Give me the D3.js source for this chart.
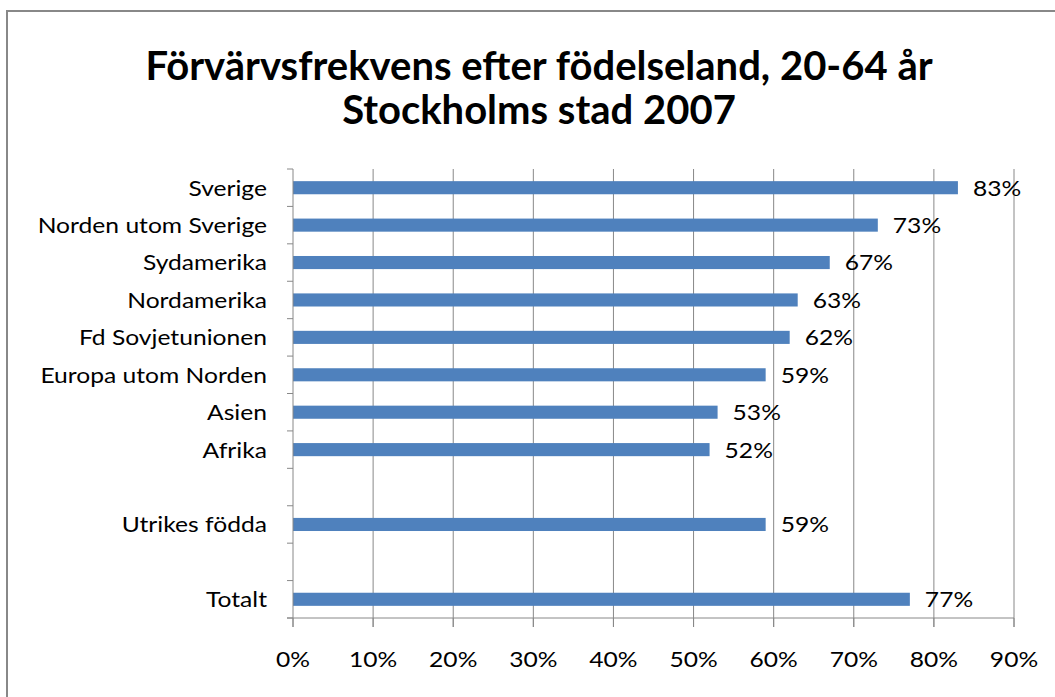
<!DOCTYPE html>
<html><head><meta charset="utf-8">
<script src="https://d3js.org/d3.v7.min.js"></script>
<style>body{margin:0;background:#fff}svg{display:block}text{font-family:Lato,"Open Sans",sans-serif}</style>
</head><body><div id="c"></div>
<script>
const categories = ["Sverige","Norden utom Sverige","Sydamerika","Nordamerika","Fd Sovjetunionen","Europa utom Norden","Asien","Afrika","","Utrikes födda"," ","Totalt"];
const values = [83,73,67,63,62,59,53,52,null,59,null,77];
const xTicks = [0,10,20,30,40,50,60,70,80,90];
const titleLines = ["Förvärvsfrekvens efter födelseland, 20-64 år","Stockholms stad 2007"];

const W=1055,H=697;
const FS=22, SX=1.12;
const svg=d3.select("#c").append("svg").attr("width",W).attr("height",H);
svg.append("rect").attr("x",7).attr("y",11).attr("width",W).attr("height",H).attr("fill","#fff").attr("stroke","#888").attr("stroke-width",2);

const m={l:293,r:1014,t:169,b:618};
const x=d3.scaleLinear().domain([0,90]).range([m.l,m.r]);
const y=d3.scaleBand().domain(categories).range([m.t,m.b]).paddingInner(0.65).paddingOuter(0.325);

// gridlines
svg.append("g").selectAll("line").data(xTicks.slice(1)).join("line")
  .attr("x1",d=>x(d)).attr("x2",d=>x(d)).attr("y1",m.t).attr("y2",m.b+9)
  .attr("stroke","#888").attr("stroke-width",1);

// bars
const data=categories.map((c,i)=>({c,v:values[i]})).filter(d=>d.v!=null);
svg.append("g").selectAll("rect").data(data).join("rect")
  .attr("x",x(0)).attr("y",d=>y(d.c)).attr("width",d=>x(d.v)-x(0)).attr("height",y.bandwidth())
  .attr("fill","#4F81BD");

// value labels
svg.append("g").selectAll("text").data(data).join("text")
  .attr("transform",d=>`translate(${x(d.v)+15},${y(d.c)+y.bandwidth()/2}) scale(${SX},1)`).attr("dy","0.36em")
  .attr("font-size",FS).attr("fill","#000").text(d=>d.v+"%");

// y axis
const step=y.step();
const ya=svg.append("g");
ya.append("line").attr("x1",m.l).attr("x2",m.l).attr("y1",m.t).attr("y2",m.b+9).attr("stroke","#888");
ya.selectAll("line.t").data(d3.range(categories.length+1)).join("line").attr("class","t")
  .attr("x1",m.l-6).attr("x2",m.l).attr("y1",i=>m.t+i*step).attr("y2",i=>m.t+i*step).attr("stroke","#888");
ya.selectAll("text").data(categories).join("text")
  .attr("transform",d=>`translate(${m.l-26},${y(d)+y.bandwidth()/2}) scale(${SX},1)`).attr("dy","0.36em").attr("text-anchor","end")
  .attr("font-size",FS).attr("fill","#000").text(d=>d.trim());

// x axis
const xa=svg.append("g");
xa.append("line").attr("x1",m.l-6).attr("x2",m.r).attr("y1",m.b).attr("y2",m.b).attr("stroke","#888");
xa.selectAll("line.t").data(xTicks).join("line").attr("class","t")
  .attr("x1",d=>x(d)).attr("x2",d=>x(d)).attr("y1",m.b).attr("y2",m.b+9).attr("stroke","#888");
xa.selectAll("text").data(xTicks).join("text")
  .attr("transform",d=>`translate(${x(d)},667) scale(${SX},1)`).attr("text-anchor","middle")
  .attr("font-size",FS).attr("fill","#000").text(d=>d+"%");

// title
svg.append("g").selectAll("text").data(titleLines).join("text")
  .attr("x",539).attr("y",(d,i)=>80+i*44).attr("text-anchor","middle")
  .attr("font-size",40).attr("font-weight","bold").attr("fill","#000").text(d=>d);
</script></body></html>
